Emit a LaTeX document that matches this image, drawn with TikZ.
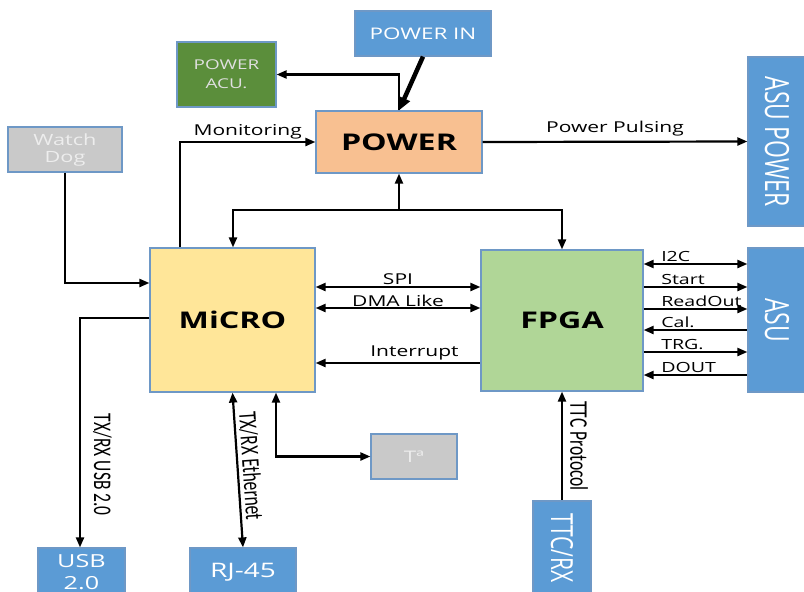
\documentclass[tikz,border=0pt]{standalone}
\usepackage{fontspec}
\setmainfont{Open Sans}[FakeStretch=1.4]
\newfontfamily\upfont{Open Sans}
\newfontfamily\thinfont{Carlito}
\usetikzlibrary{arrows.meta}
\definecolor{boxblue}{HTML}{5B9BD5}
\definecolor{boxline}{HTML}{6E98C6}
\definecolor{boxgray}{HTML}{C9C9C9}
\definecolor{acugreen}{HTML}{5B8E3B}
\definecolor{powerorange}{HTML}{F8C091}
\definecolor{microyellow}{HTML}{FFE699}
\definecolor{fpgagreen}{HTML}{B0D697}
\newcommand{\vtext}[1]{\rotatebox{-90}{\scalebox{1}[1.45]{#1}}}
\newcommand{\stext}[1]{\scalebox{1}[1.45]{#1}}

\tikzset{
  blk/.style={draw=boxline, line width=1.2pt, inner sep=0pt, align=center},
  bluebox/.style={blk, fill=boxblue, text=white},
  graybox/.style={blk, fill=boxgray, text=white!93!black},
  wire/.style={line width=2.2pt, >={Triangle[length=10pt,width=8pt]}},
  lbl/.style={font=\fontsize{15}{17}\selectfont, inner sep=1.5pt},
  asulbl/.style={font=\fontsize{14}{16}\selectfont, inner sep=1pt, pos=0.15, anchor=south west},
  vlbl/.style={font=\thinfont\fontsize{17.5}{20}\selectfont, sloped, above, inner sep=2pt}
}

\begin{document}
\begin{tikzpicture}[x=1pt,y=-1pt]
\useasboundingbox (0,0) rectangle (804,592);

\node[bluebox, minimum width=136pt, minimum height=45pt, font=\fontsize{16}{18}\selectfont] (powin) at (423,33.5) {POWER IN};
\node[blk, fill=acugreen, text=white!88!black, minimum width=99pt, minimum height=65pt, font=\fontsize{13.5}{19}\selectfont] (acu) at (226.5,74.5) {POWER\\ACU.};
\node[blk, fill=powerorange, minimum width=166pt, minimum height=62pt, font=\bfseries\fontsize{23}{26}\selectfont] (power) at (399,142) {POWER};
\node[bluebox, minimum width=58pt, minimum height=169pt] (asupow) at (777,141.5) {\upfont\fontsize{23}{26}\selectfont\vtext{ASU POWER}};
\node[graybox, minimum width=114pt, minimum height=45pt, font=\fontsize{15.5}{17}\selectfont] (dog) at (65,149.5) {Watch\\Dog};
\node[blk, fill=microyellow, minimum width=165pt, minimum height=144pt, font=\bfseries\fontsize{23}{26}\selectfont] (micro) at (232.5,320) {MiCRO};
\node[blk, fill=fpgagreen, minimum width=162pt, minimum height=141pt, font=\bfseries\fontsize{23}{26}\selectfont] (fpga) at (562,320.5) {FPGA};
\node[bluebox, minimum width=58pt, minimum height=144pt] (asu) at (777,320) {\upfont\fontsize{23}{26}\selectfont\vtext{ASU}};
\node[bluebox, minimum width=87pt, minimum height=48pt, font=\fontsize{18}{22}\selectfont] (usb) at (81.5,572) {USB\\2.0};
\node[bluebox, minimum width=106pt, minimum height=48pt, font=\fontsize{20}{24}\selectfont] (rj) at (243,572) {RJ-45};
\node[graybox, minimum width=86pt, minimum height=45pt, font=\fontsize{16}{18}\selectfont] (temp) at (414,456.5) {Tª};
\node[bluebox, minimum width=58pt, minimum height=94pt] (ttc) at (562,548) {\upfont\fontsize{21}{24}\selectfont\vtext{TTC/RX}};

\draw[wire, ->, line width=4.5pt, >={Triangle[length=13pt,width=12pt]}] (powin.south) -- (power.north);
\draw[wire, ->] (power.north) |- (acu.east);
\draw[wire, ->] (power.east) -- (asupow.west) node[lbl, midway, above=3pt] {Power Pulsing};
\draw[wire, ->] (dog.south) |- (micro.west |- 0,283);
\draw[wire, ->] (micro.north -| 180,0) |- (power.west) node[lbl, pos=0.75, above] {Monitoring};

\coordinate (pwbus) at (399,210);
\draw[wire, ->] (pwbus) -- (power.south);
\draw[wire, ->] (pwbus) -| (micro.north -| 233,0);
\draw[wire, ->] (pwbus) -| (fpga.north);

\draw[wire, <->] (micro.east |- 0,287) -- (fpga.west |- 0,287) node[lbl, midway, above] {SPI};
\draw[wire, <->] (micro.east |- 0,308) -- (fpga.west |- 0,308) node[lbl, midway, above, inner sep=0pt] {DMA Like};
\draw[wire, <-] (micro.east |- 0,363) -- (fpga.west |- 0,363) node[lbl, pos=0.6, above] {Interrupt};

\foreach \y/\tip/\name in {264/<->/I2C, 287/->/Start, 309/->/ReadOut, 330/<-/Cal., 352/->/TRG., 375/<-/DOUT}
  \draw[wire, arrows/.expand once=\tip] (fpga.east |- 0,\y) -- (asu.west |- 0,\y) node[asulbl] {\name};

\draw[wire, ->] (micro.west |- 0,318) -| (usb.north -| 80,0) node[vlbl, pos=0.82, above=10pt] {\stext{TX/RX USB 2.0}};
\draw[wire, <->] (micro.south) -- (rj.north) node[vlbl, pos=0.48, above=1pt] {\stext{TX/RX Ethernet}};
\draw[wire, <-] (fpga.south) -- (ttc.north) node[vlbl, midway, above=5pt] {\stext{TTC Protocol}};
\draw[wire, <->] (micro.south -| 276,0) |- (temp.west);
\end{tikzpicture}
\end{document}
